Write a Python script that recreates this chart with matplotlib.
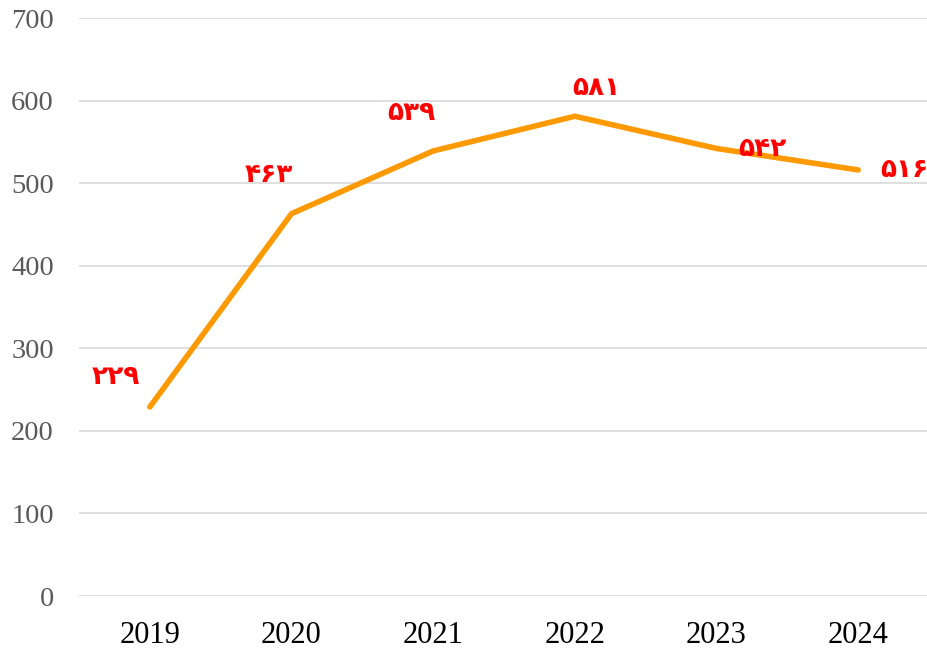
import numpy as np
import matplotlib.pyplot as plt

years = ['2019', '2020', '2021', '2022', '2023', '2024']
values = [229, 463, 539, 581, 542, 516]
labels = ['۲۲۹', '۴۶۳', '۵۳۹', '۵۸۱', '۵۴۲', '۵۱۶']
# label offsets from each point, in pixels (x, y up)
label_offsets = [(-34, 30), (-23, 39), (-22, 38), (22, 28), (46, -1), (46, 0)]

fig = plt.figure(figsize=(9.27, 6.52), dpi=100)
ax = fig.add_axes([79/927, 56/652, 850/927, 578/652])

x = np.arange(len(years))
ax.plot(x, values, color='#FF9900', lw=4, solid_capstyle='round', zorder=3)

for i in range(len(values)):
    ax.annotate(labels[i], (x[i], values[i]), xytext=label_offsets[i],
                textcoords='offset pixels', ha='center', va='center',
                color='#FF0000', fontsize=19, fontweight='bold',
                family=['DejaVu Sans'], zorder=4)

ax.set_xlim(-0.5, 5.5)
ax.set_ylim(0, 700)
ax.set_yticks(np.arange(0, 701, 100))
ax.set_xticks(x)
ax.set_xticklabels(years)
ax.grid(axis='y', color='#D9D9D9', lw=1.2)
ax.set_axisbelow(True)
for s in ax.spines.values():
    s.set_visible(False)
ax.tick_params(length=0)
ax.tick_params(axis='y', pad=18, labelsize=20.5, labelcolor='#595959')
ax.tick_params(axis='x', pad=18, labelsize=22, labelcolor='black')
for t in ax.get_xticklabels() + ax.get_yticklabels():
    t.set_family('Liberation Serif')

fig.savefig('out.png', dpi=100)
